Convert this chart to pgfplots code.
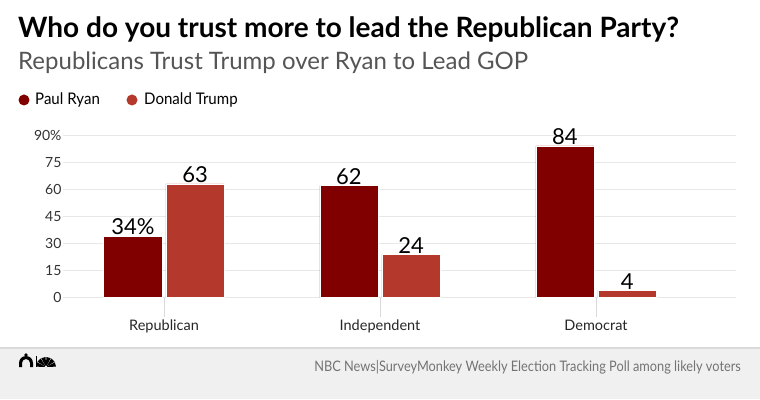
\documentclass[border=0pt]{standalone}
\usepackage{pgfplots}
\pgfplotsset{compat=1.18}
\usepackage{fontspec}
\setmainfont{Lato}
\usepackage{graphicx}
\definecolor{ryan}{HTML}{800000}
\definecolor{trump}{HTML}{B5382D}
\definecolor{gridc}{HTML}{E8E8E8}
\definecolor{foot}{HTML}{F0F0F0}
\definecolor{subt}{HTML}{555555}
\begin{document}
\begin{tikzpicture}[x=1pt,y=1pt]
\useasboundingbox (0,0) rectangle (760,399);
\fill[white] (0,0) rectangle (760,399);
\fill[foot] (0,0) rectangle (760,51);
\draw[line width=1.2pt, color=black!15] (0,51) -- (760,51);
% simple logo marks
\begin{scope}[black]
\fill (19,32) -- (19,36) arc (180:0:7) -- (33,32) -- (30,32) -- (30,36) arc (0:180:4) -- (22,32) -- cycle;
\fill (26,44) circle (1.8);
\fill (35.5,32) rectangle (37,43);
\foreach \a in {15,45,75,105,135,165}{\fill (46,32) -- ++(\a-13:10) arc (\a-13:\a+13:10) -- cycle;}
\end{scope}
\fill[foot] (46,32.5) circle (1.2);
\node[anchor=base west, inner sep=0pt, font=\fontsize{28}{32}\selectfont\bfseries] at (18,361) {Who do you trust more to lead the Republican Party?};
\node[anchor=base west, inner sep=0pt, text=subt, font=\fontsize{24}{28}\selectfont] at (18,329) {Republicans Trust Trump over Ryan to Lead GOP};
\fill[ryan] (24,299) circle (5.5);
\node[anchor=base west, inner sep=0pt, font=\fontsize{16}{18}\selectfont] at (35,294) {\scalebox{0.94}[1]{Paul Ryan}};
\fill[trump] (132,299) circle (5.5);
\node[anchor=base west, inner sep=0pt, font=\fontsize{16}{18}\selectfont] at (144,294) {\scalebox{0.94}[1]{Donald Trump}};
\node[anchor=base east, inner sep=0pt, text=black!55, font=\fontsize{14.5}{16}\selectfont] at (741,28) {\scalebox{0.88}[1]{NBC News|SurveyMonkey Weekly Election Tracking Poll among likely voters}};
\begin{axis}[
  at={(63pt,101.3pt)}, anchor=south west,
  scale only axis, width=673pt, height=162.7pt,
  xmin=-0.4676, xmax=2.648, ymin=0, ymax=90,
  axis line style={draw=none},
  ytick={0,15,30,45,60,75,90},
  yticklabels={0,15,30,45,60,75,90\%},
  yticklabel style={font=\fontsize{14}{16}\selectfont, text=black!80, anchor=east, xshift=21pt},
  ymajorgrids, grid style={gridc, line width=0.8pt},
  ytick style={draw=none},
  xtick={0,1,2},
  xtick pos=lower,
  xticklabels={Republican,Independent,Democrat},
  xtick style={draw=black!15, line width=0.6pt},
  tick align=outside, major tick length=19pt,
  xticklabel style={font=\fontsize{14.5}{16}\selectfont, text=black!85, yshift=0pt},
  ybar, bar width=0.27,
  clip=false,
  nodes near coords, point meta=explicit symbolic,
  every node near coord/.append style={font=\fontsize{22}{24}\selectfont, text=black, inner sep=1pt, anchor=south},
]
\addplot[fill=ryan, draw=white, line width=0.5pt, bar shift=-0.144] coordinates {(0,34) [34\%] (1,62) [62] (2,84) [84]};
\addplot[fill=trump, draw=white, line width=0.5pt, bar shift=0.144] coordinates {(0,63) [63] (1,24) [24] (2,4) [4]};
\end{axis}
\end{tikzpicture}
\end{document}
